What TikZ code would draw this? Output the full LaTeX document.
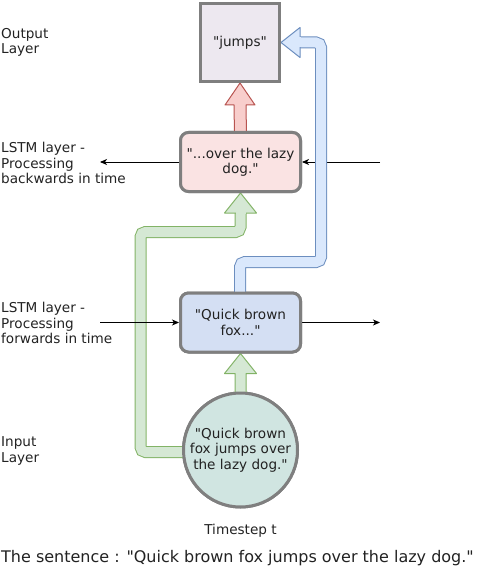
\documentclass[tikz,border=0pt]{standalone}
\usepackage{fontspec}
\setmainfont{DejaVu Sans}[Ligatures=TeXOff]
\usetikzlibrary{calc,arrows.meta}
\definecolor{bordergray}{HTML}{7F7F7F}
\definecolor{outfill}{HTML}{EDE8F0}
\definecolor{bwdfill}{HTML}{FAE3E3}
\definecolor{fwdfill}{HTML}{D4DFF3}
\definecolor{circfill}{HTML}{D0E5E1}
\definecolor{txt}{HTML}{222222}
\definecolor{redF}{HTML}{F8CECC}\definecolor{redS}{HTML}{B85450}
\definecolor{grnF}{HTML}{D5E8D4}\definecolor{grnS}{HTML}{82B366}
\definecolor{bluF}{HTML}{DAE8FC}\definecolor{bluS}{HTML}{6C8EBF}
\tikzset{
  lbl/.style={anchor=west,align=left,inner sep=0pt,text=txt,font=\fontsize{13.6}{15.5}\selectfont},
  boxtext/.style={align=center,text=txt,font=\fontsize{13.6}{15.5}\selectfont},
  rbox/.style={boxtext,draw=bordergray,line width=3pt,rounded corners=8pt,minimum width=120pt,minimum height=59pt,inner sep=0pt},
  sqbox/.style={boxtext,draw=bordergray,line width=3pt,fill=outfill,minimum width=79pt,minimum height=78pt,inner sep=0pt},
  cbox/.style={boxtext,draw=bordergray,line width=3pt,fill=circfill,circle,minimum size=114pt,inner sep=0pt},
  thin/.style={draw=black,line width=0.9pt,-{Stealth[length=7pt,width=6pt,inset=2pt]}},
  fatS/.style={line width=12pt,rounded corners=5pt},
  fatF/.style={line width=10pt,rounded corners=5pt},
}
\begin{document}
\begin{tikzpicture}[x=1pt,y=-1pt]
\useasboundingbox (0,0) rectangle (477,572);
% nodes (positions)
\node[sqbox] (out) at (240,42.5) {"jumps"};
\node[rbox,fill=bwdfill] (bwd) at (240.5,162) {"...over the lazy\\dog."};
\node[rbox,fill=fwdfill] (fwd) at (240.5,322.5) {"Quick brown\\fox..."};
\node[cbox] (inp) at (240.5,450) {"Quick brown\\fox jumps over\\the lazy dog."};
\coordinate (g1) at (140.5,452);
\coordinate (g2) at (140.5,232);
\coordinate (g3) at (240.5,232);
\coordinate (b1) at (240,262);
\coordinate (b2) at (321,262);
\coordinate (b3) at (321,42.5);
\coordinate (lb) at (100,162);
\coordinate (rb) at (380,162);
\coordinate (lf) at (100,322.5);
\coordinate (rf) at (380,322.5);
% green L arrow: input -> backward
\draw[fatS,grnS] ($(inp.west)+(4,2)$) -- (g1) -- (g2) -- (g3) -- ($(bwd.south)+(0,20)$);
\draw[fatF,grnF] ($(inp.west)+(4,2)$) -- (g1) -- (g2) -- (g3) -- ($(bwd.south)+(0,20)$);
\filldraw[fill=grnF,draw=grnS,line width=1pt,line join=round] ($(bwd.south)+(-16,20)$) -- (bwd.south) -- ($(bwd.south)+(16,20)$) -- cycle;
\draw[line width=10pt,grnF] ($(bwd.south)+(0,21)$) -- ($(bwd.south)+(0,19)$);
% green straight arrow: input -> forward
\filldraw[fill=grnF,draw=grnS,line width=1pt,line join=round]
  ($(inp.north)+(-5.5,4)$) -- ($(fwd.south)+(-5.5,20)$) -- ($(fwd.south)+(-16,20)$) -- (fwd.south)
  -- ($(fwd.south)+(16,20)$) -- ($(fwd.south)+(5.5,20)$) -- ($(inp.north)+(5.5,4)$) -- cycle;
% thin black arrows
\draw[thin] (bwd.west) -- (lb);
\draw[thin] (rb) -- (bwd.east);
\draw[thin] (lf) -- (fwd.west);
\draw[thin] (fwd.east) -- (rf);
% blue arrow: forward -> output
\draw[fatS,bluS] ($(fwd.north)+(-0.5,4)$) -- (b1) -- (b2) -- (b3) -- ($(out.east)+(19,0)$);
\draw[fatF,bluF] ($(fwd.north)+(-0.5,4)$) -- (b1) -- (b2) -- (b3) -- ($(out.east)+(19,0)$);
\filldraw[fill=bluF,draw=bluS,line width=1pt,line join=round] ($(out.east)+(19,-15)$) -- (out.east) -- ($(out.east)+(19,15)$) -- cycle;
\draw[line width=10pt,bluF] ($(out.east)+(20,0)$) -- ($(out.east)+(18,0)$);
% red arrow: backward -> output
\filldraw[fill=redF,draw=redS,line width=1pt,line join=round]
  ($(bwd.north)+(-6,4)$) -- ($(out.south)+(-6,22)$) -- ($(out.south)+(-15,22)$) -- (out.south)
  -- ($(out.south)+(15,22)$) -- ($(out.south)+(6,22)$) -- ($(bwd.north)+(6,4)$) -- cycle;
% redraw nodes on top
\node[sqbox] at (out) {"jumps"};
\node[rbox,fill=bwdfill] at (bwd) {"...over the lazy\\dog."};
\node[rbox,fill=fwdfill] at (fwd) {"Quick brown\\fox..."};
\node[cbox] at (inp) {"Quick brown\\fox jumps over\\the lazy dog."};
% labels
\node[lbl] (lo) at (1,42.5) {Output\\Layer};
\node[lbl] (lbw) at (1,163) {LSTM layer -\\Processing\\backwards in time};
\node[lbl] (lfw) at (1,323) {LSTM layer -\\Processing\\forwards in time};
\node[lbl] (li) at (1,451) {Input\\Layer};
\node[boxtext,inner sep=0pt] (ts) at (240.5,531) {Timestep t};
\node[lbl,font=\fontsize{16}{18}\selectfont] (sent) at (1,558) {The sentence : "Quick brown fox jumps over the lazy dog."};
\end{tikzpicture}
\end{document}
